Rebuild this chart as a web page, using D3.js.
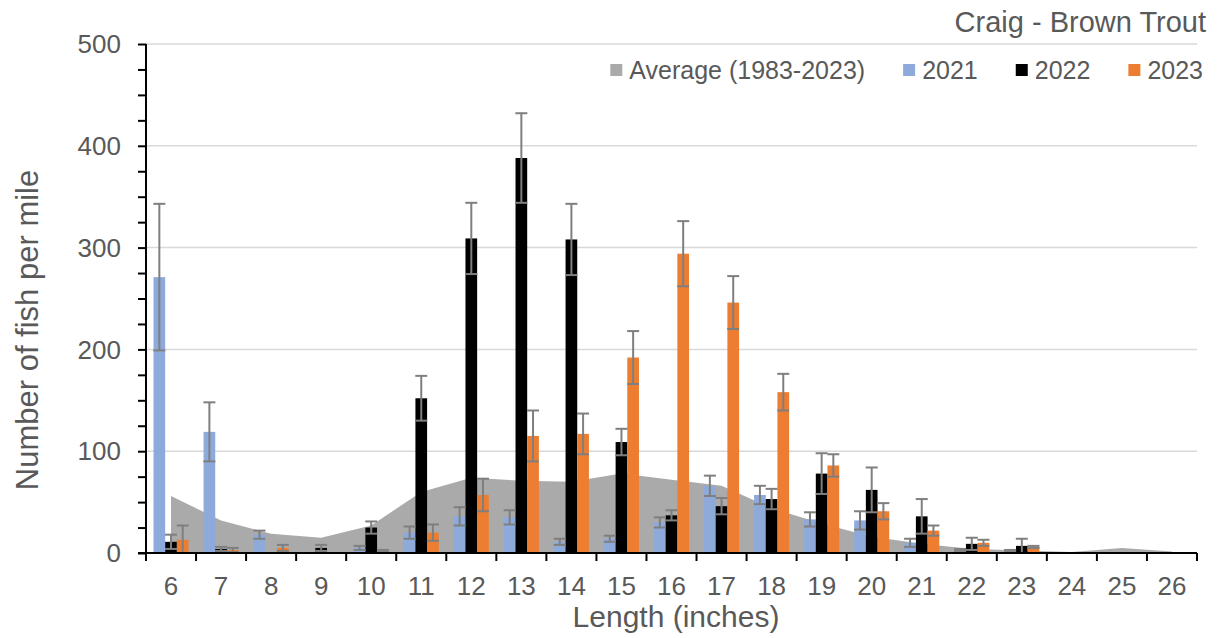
<!DOCTYPE html>
<html>
<head>
<meta charset="utf-8">
<script src="https://cdn.jsdelivr.net/npm/d3@7"></script>
<style>
  html, body { margin: 0; padding: 0; background: #fff; }
  svg { display: block; font-family: "Liberation Sans", Arial, sans-serif; }
</style>
</head>
<body>
<svg id="chart" width="1217" height="638"></svg>
<script>
const categories = [6, 7, 8, 9, 10, 11, 12, 13, 14, 15, 16, 17, 18, 19, 20, 21, 22, 23, 24, 25, 26];
const average = [56, 32, 19, 15, 27, 60, 74, 71, 70, 78, 72, 66, 44, 29, 16, 9, 4, 2.5, 1, 5, 1.5];
const y2021 = [271, 119, 18, 1, 5, 20, 36, 35, 11, 14, 30, 66, 57, 33, 32, 10, 3, 2, 0, 0, 0];
const e2021 = [72, 29, 4, 0, 2, 6, 9, 7, 3, 3, 5, 10, 9, 7, 9, 4, 1, 1, 0, 0, 0];
const y2022 = [11, 4, 0, 5, 25, 152, 309, 388, 308, 109, 37, 46, 53, 78, 62, 36, 9, 7, 0, 0, 0];
const e2022 = [7, 2, 0, 3, 6, 22, 35, 44, 35, 13, 5, 8, 10, 20, 22, 17, 6, 7, 0, 0, 0];
const y2023 = [13, 3, 5, 0, 2, 20, 57, 115, 117, 192, 294, 246, 158, 86, 41, 22, 10, 6, 0, 0, 0];
const e2023 = [14, 2, 3, 0, 1, 8, 16, 25, 20, 26, 32, 26, 18, 11, 8, 5, 3, 1, 0, 0, 0];
const yTicks = [0, 100, 200, 300, 400, 500];
const seriesNames = ["2021", "2022", "2023"];
const seriesColors = ["#8eaadb", "#000000", "#ed7d31"];
const avgName = "Average (1983-2023)";
const avgColor = "#aaaaaa";
const chartTitle = "Craig - Brown Trout";
const xTitle = "Length (inches)";
const yTitle = "Number of fish per mile";

(function () {
const svg = d3.select("#chart");
const mLeft = 146, mRight = 1197, mTop = 44, mBottom = 553;
const textColor = "#595959";

const x = d3.scaleBand().domain(categories).range([mLeft, mRight]).paddingInner(0).paddingOuter(0);
const y = d3.scaleLinear().domain([0, 500]).range([mBottom, mTop]);
const groupW = x.bandwidth() * 0.7;
const sub = d3.scaleBand().domain(seriesNames).range([(x.bandwidth() - groupW) / 2, (x.bandwidth() + groupW) / 2]);

// gridlines
svg.append("g").selectAll("line").data(yTicks.filter(d => d > 0)).join("line")
  .attr("x1", mLeft).attr("x2", mRight)
  .attr("y1", d => y(d)).attr("y2", d => y(d))
  .attr("stroke", "#d9d9d9").attr("stroke-width", 1.5);

// average area
const avgData = categories.map((c, i) => ({ c, v: average[i] }));
svg.append("path").datum(avgData)
  .attr("fill", avgColor)
  .attr("d", d3.area().x(d => x(d.c) + x.bandwidth() / 2).y0(y(0)).y1(d => y(d.v)));

// bars
const values = [y2021, y2022, y2023];
const errors = [e2021, e2022, e2023];
const barData = [];
seriesNames.forEach((s, si) => {
  categories.forEach((c, i) => {
    barData.push({ s, si, c, v: values[si][i], e: errors[si][i] });
  });
});
svg.append("g").selectAll("rect").data(barData.filter(d => d.v > 0)).join("rect")
  .attr("x", d => x(d.c) + sub(d.s))
  .attr("width", sub.bandwidth())
  .attr("y", d => y(d.v))
  .attr("height", d => y(0) - y(d.v))
  .attr("fill", d => seriesColors[d.si]);

// error bars
const eb = svg.append("g").attr("stroke", "#7f7f7f").attr("stroke-width", 2);
barData.filter(d => d.e > 0).forEach(d => {
  const cx = x(d.c) + sub(d.s) + sub.bandwidth() / 2;
  const lo = y(Math.max(0, d.v - d.e)), hi = y(d.v + d.e);
  eb.append("line").attr("x1", cx).attr("x2", cx).attr("y1", lo).attr("y2", hi);
  eb.append("line").attr("x1", cx - 6).attr("x2", cx + 6).attr("y1", lo).attr("y2", lo);
  eb.append("line").attr("x1", cx - 6).attr("x2", cx + 6).attr("y1", hi).attr("y2", hi);
});

// y axis
const yAxis = d3.axisLeft(y).tickValues(d3.range(0, 501, 25)).tickSize(8).tickFormat("");
const ya = svg.append("g").attr("transform", `translate(${mLeft},0)`).call(yAxis);
ya.select(".domain").attr("stroke", "#000").attr("stroke-width", 2).attr("d", `M0,${mTop}V${mBottom}`);
ya.selectAll(".tick line").attr("stroke", "#000").attr("stroke-width", 2);
svg.append("g").selectAll("text").data(yTicks).join("text")
  .attr("x", 121).attr("y", d => y(d)).attr("dy", "0.35em")
  .attr("text-anchor", "end").attr("fill", textColor).attr("font-size", 26)
  .text(d => d);

// x axis
const xa = svg.append("g").attr("transform", `translate(0,${mBottom})`);
xa.append("line").attr("x1", mLeft - 8).attr("x2", mRight).attr("stroke", "#000").attr("stroke-width", 2);
const bounds = categories.map(c => x(c)).concat([mRight]);
xa.selectAll("line.t").data(bounds).join("line").attr("class", "t")
  .attr("x1", d => d).attr("x2", d => d).attr("y1", 0).attr("y2", 8)
  .attr("stroke", "#000").attr("stroke-width", 2);
xa.selectAll("text").data(categories).join("text")
  .attr("x", d => x(d) + x.bandwidth() / 2).attr("y", 42)
  .attr("text-anchor", "middle").attr("fill", textColor).attr("font-size", 26)
  .text(d => d);

// titles
svg.append("text").attr("x", 676).attr("y", 627)
  .attr("text-anchor", "middle").attr("fill", textColor).attr("font-size", 30).text(xTitle);
svg.append("text").attr("transform", `translate(38,330) rotate(-90)`)
  .attr("text-anchor", "middle").attr("fill", textColor).attr("font-size", 31).text(yTitle);
svg.append("text").attr("x", 1206).attr("y", 32)
  .attr("text-anchor", "end").attr("fill", textColor).attr("font-size", 29).text(chartTitle);

// legend
const legendItems = [{ name: avgName, color: avgColor }].concat(seriesNames.map((s, i) => ({ name: s, color: seriesColors[i] })));
const lg = svg.append("g");
let lx = 1203;
for (let i = legendItems.length - 1; i >= 0; i--) {
  const it = legendItems[i];
  const t = lg.append("text").attr("y", 79).attr("fill", textColor).attr("font-size", 25).attr("text-anchor", "end").attr("x", lx).text(it.name);
  const w = t.node().getComputedTextLength();
  lg.append("rect").attr("x", lx - w - 19).attr("y", 64).attr("width", 12).attr("height", 12).attr("fill", it.color);
  lx = lx - w - 19 - 38;
}
})();
</script>
</body>
</html>
